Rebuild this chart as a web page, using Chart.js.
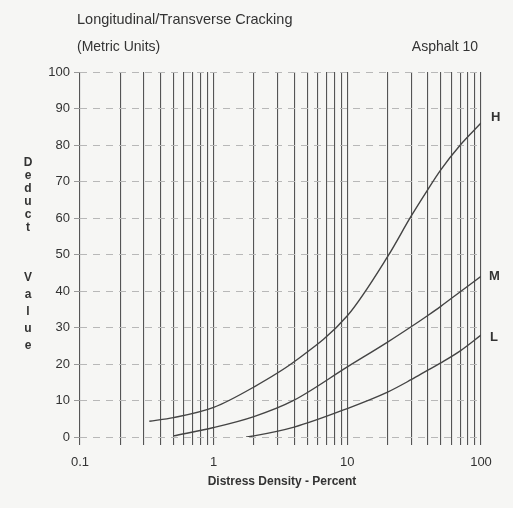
<!DOCTYPE html>
<html>
<head>
<meta charset="utf-8">
<script src="https://cdn.jsdelivr.net/npm/chart.js@4.4.1/dist/chart.umd.min.js"></script>
<style>
  html, body { margin: 0; padding: 0; background: #f6f6f4; }
  #wrap { width: 513px; height: 508px; position: relative; }
</style>
</head>
<body>
<div id="wrap"><canvas id="c" width="513" height="508"></canvas></div>
<script>
// ---- data ----
const seriesNames = ['H', 'M', 'L'];
const hX = [0.33, 0.5, 1, 2, 4, 10, 20, 30, 40, 50, 70, 100];
const hY = [4.3, 5.3, 8.1, 13.7, 20.6, 33.2, 49.4, 60.5, 67.8, 73.2, 80.0, 86];
const mX = [0.5, 1, 2, 4, 10, 20, 30, 40, 50, 70, 100];
const mY = [0.3, 2.6, 5.6, 10.1, 19.2, 26.0, 30.2, 33.3, 35.8, 39.8, 44];
const lX = [1.75, 2, 4, 10, 20, 30, 40, 50, 70, 100];
const lY = [0, 0.3, 2.7, 7.8, 12.3, 15.7, 18.3, 20.3, 23.6, 27.9];
const xGridValues = [0.1,0.2,0.3,0.4,0.5,0.6,0.7,0.8,0.9,1,2,3,4,5,6,7,8,9,10,20,30,40,50,60,70,80,90,100];
const xTickLabels = ['0.1', '1', '10', '100'];
const yTickValues = [0,10,20,30,40,50,60,70,80,90,100];
const titleText = 'Longitudinal/Transverse Cracking';
const subtitleText = '(Metric Units)';
const materialText = 'Asphalt 10';
const xAxisTitle = 'Distress Density - Percent';
const yAxisTitleWords = ['Deduct', 'Value'];

function pts(xs, ys) { return xs.map((x, i) => ({ x: x, y: ys[i] })); }

const FONT = "'Liberation Sans', Arial, sans-serif";
const TXT = '#333333';
const LINE = '#444444';

const textPlugin = {
  id: 'texts',
  beforeDraw(chart) {
    const ctx = chart.ctx;
    ctx.save();
    ctx.fillStyle = '#f6f6f4';
    ctx.fillRect(0, 0, chart.width, chart.height);
    ctx.restore();
  },
  afterDraw(chart) {
    const ctx = chart.ctx;
    ctx.save();
    ctx.fillStyle = TXT;
    ctx.textBaseline = 'middle';
    ctx.font = '14.5px ' + FONT;
    ctx.textAlign = 'left';
    ctx.fillText(titleText, 77, 20);
    ctx.font = '14px ' + FONT;
    ctx.fillText(subtitleText, 77, 47);
    ctx.textAlign = 'right';
    ctx.fillText(materialText, 478, 47);
    // x axis title
    ctx.textAlign = 'center';
    ctx.font = 'bold 12px ' + FONT;
    ctx.fillText(xAxisTitle, 282, 482);
    // y axis title: stacked letters
    ctx.font = 'bold 12px ' + FONT;
    const w1 = yAxisTitleWords[0].split('');
    w1.forEach((ch, i) => ctx.fillText(ch, 28, 163 + i * 13));
    const w2 = yAxisTitleWords[1].split('');
    w2.forEach((ch, i) => ctx.fillText(ch, 28, 278 + i * 16.8));
    // series labels at ends of curves
    ctx.font = 'bold 13px ' + FONT;
    ctx.textAlign = 'left';
    const offs = [[10, -6], [8, 0], [9, 2]];
    chart.data.datasets.forEach((ds, i) => {
      const meta = chart.getDatasetMeta(i);
      const p = meta.data[meta.data.length - 1];
      ctx.fillText(seriesNames[i], p.x + offs[i][0], p.y + offs[i][1]);
    });
    ctx.restore();
  }
};

const mk = (data) => ({
  data: data,
  borderColor: LINE,
  borderWidth: 1.4,
  pointRadius: 0,
  fill: false,
  cubicInterpolationMode: 'monotone'
});

new Chart(document.getElementById('c'), {
  type: 'line',
  data: {
    datasets: [mk(pts(hX, hY)), mk(pts(mX, mY)), mk(pts(lX, lY))]
  },
  options: {
    responsive: false,
    animation: false,
    devicePixelRatio: 1,
    layout: { padding: { left: 0, right: 32, top: 72, bottom: 0 } },
    plugins: { legend: { display: false }, tooltip: { enabled: false }, title: { display: false } },
    scales: {
      x: {
        type: 'logarithmic',
        min: 0.1,
        max: 100,
        border: { display: false },
        afterBuildTicks(scale) { scale.ticks = xGridValues.map(v => ({ value: v })); },
        afterFit(scale) { scale.height = 71; },
        grid: { color: '#555555', lineWidth: 1.1, drawTicks: true, tickLength: 8, tickColor: '#555555' },
        ticks: {
          autoSkip: false,
          maxRotation: 0,
          padding: 10,
          color: TXT,
          font: { family: FONT, size: 13 },
          callback(v) {
            const s = String(Math.round(v * 10) / 10);
            return xTickLabels.includes(s) ? s : '';
          }
        }
      },
      y: {
        min: 0,
        max: 100,
        border: { display: false, dash: [7, 6] },
        afterBuildTicks(scale) { scale.ticks = yTickValues.map(v => ({ value: v })); },
        afterFit(scale) { scale.width = 80; },
        grid: { color: '#b8b8b8', lineWidth: 1, drawTicks: true, tickLength: 6, tickColor: '#999999' },
        ticks: { padding: 4, color: TXT, font: { family: FONT, size: 13 } }
      }
    }
  },
  plugins: [textPlugin]
});
</script>
</body>
</html>
